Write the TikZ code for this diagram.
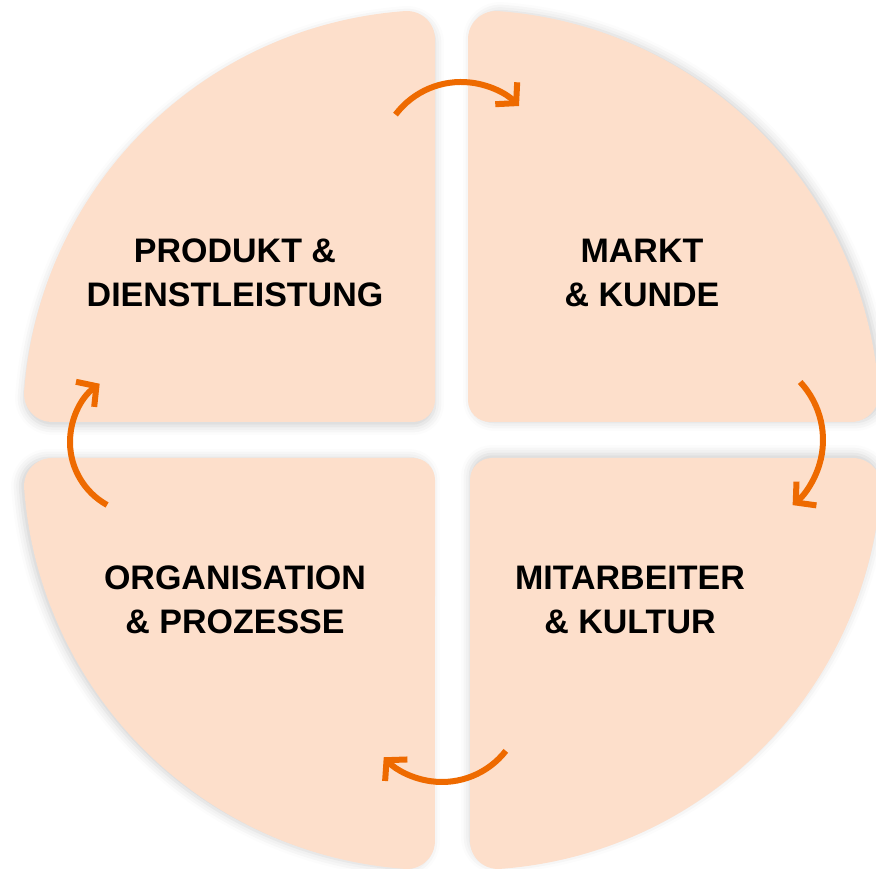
\documentclass[tikz,border=0pt]{standalone}
\usepackage{fontspec}
\setmainfont{Liberation Sans}
\usetikzlibrary{arrows.meta,shadows.blur}
\definecolor{ShapeClr}{RGB}{253,223,203}
\definecolor{ArrowClr}{RGB}{238,106,0}

\tikzset{
  fieldlabel/.style={font=\bfseries\fontsize{34}{44}\selectfont,align=center,text=black},
  turnarrow/.style={draw=ArrowClr,line width=6pt,-{Straight Barb[sharp,length=14pt,width=31pt]}}
}

\begin{document}
\begin{tikzpicture}[x=1pt,y=1pt]
\useasboundingbox (0,0) rectangle (876,869);

\foreach \ang/\cx/\cy/\sx/\sy in {0/435/447/0/-4,-90/468/447/4/0,180/470/411/0/4,90/435/411/-4/0}
  \fill[ShapeClr,shift={(\cx,\cy)},rotate=\ang,
    blur shadow={shadow xshift=\sx pt,shadow yshift=\sy pt,shadow blur radius=9pt,shadow opacity=18}]
    (0,22) -- (0,382.98) arc[start angle=0,end angle=94.181,radius=28]
    arc[start angle=94.181,end angle=175.819,radius=412]
    arc[start angle=175.819,end angle=270,radius=28]
    -- (-22,0) arc[start angle=270,end angle=360,radius=22] -- cycle;

\node[fieldlabel] (produkt) at (235,596) {PRODUKT \&\\DIENSTLEISTUNG};
\node[fieldlabel] (markt) at (642,596) {MARKT\\\& KUNDE};
\node[fieldlabel] (orga) at (235,269) {ORGANISATION\\\& PROZESSE};
\node[fieldlabel] (mitarb) at (630,269) {MITARBEITER\\\& KULTUR};

\coordinate (topturn) at (461,705);
\coordinate (rightturn) at (738,429);
\coordinate (bottomturn) at (442,168);
\coordinate (leftturn) at (142,427);

\draw[turnarrow] ([shift={(143:82)}]topturn) arc[start angle=143,end angle=45,radius=82];
\draw[turnarrow] ([shift={(43:85)}]rightturn) arc[start angle=43,end angle=-50,radius=85];
\draw[turnarrow] ([shift={(-38:81)}]bottomturn) arc[start angle=-38,end angle=-136,radius=81];
\draw[turnarrow] ([shift={(241:72)}]leftturn) arc[start angle=241,end angle=126,radius=72];

\end{tikzpicture}
\end{document}
